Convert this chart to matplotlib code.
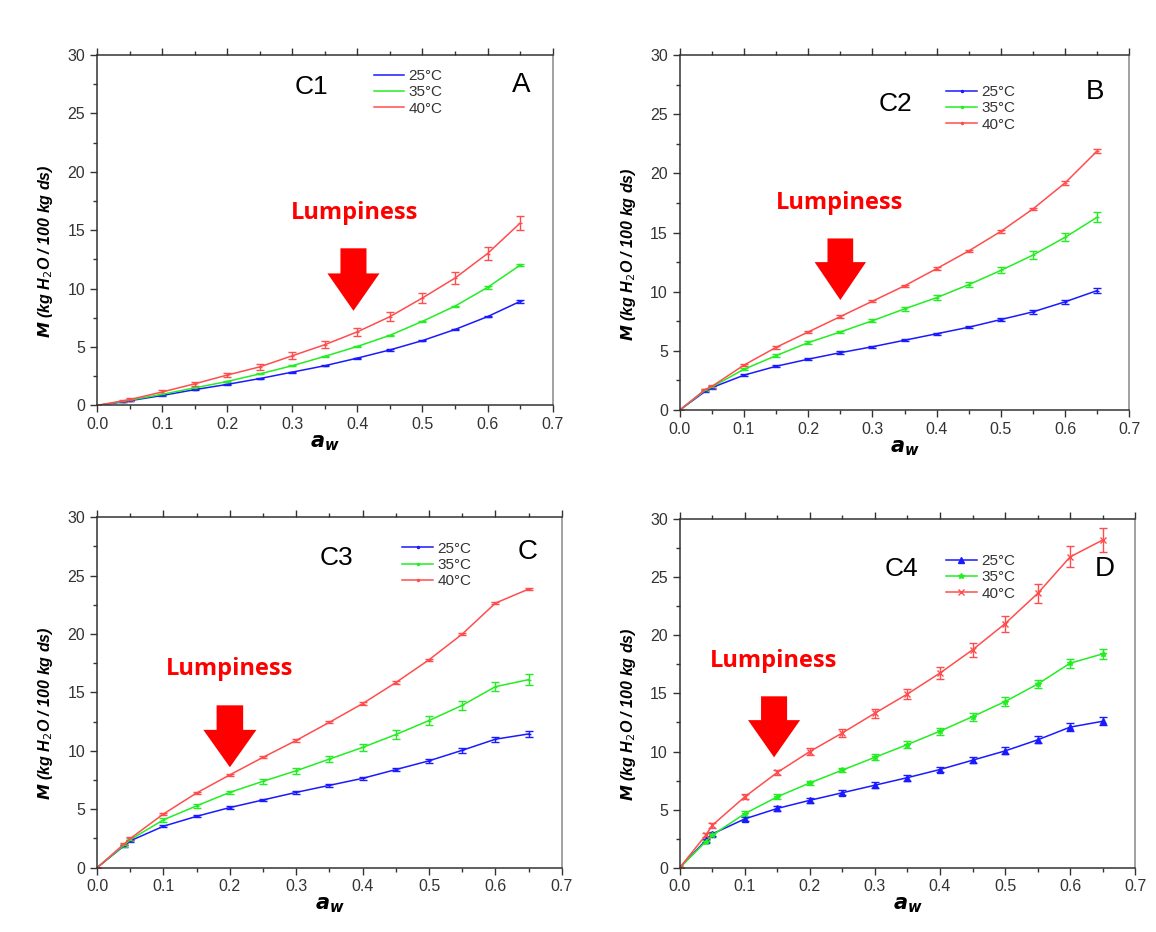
import numpy as np
import matplotlib
matplotlib.use("Agg")
import matplotlib.pyplot as plt
from matplotlib.lines import Line2D

plt.rcParams['font.family'] = ['Liberation Sans', 'DejaVu Sans']

aw = [0.0, 0.04, 0.05, 0.1, 0.15, 0.2, 0.25, 0.3, 0.35, 0.4, 0.45, 0.5, 0.55, 0.6, 0.65]
temps = ["25°C", "35°C", "40°C"]

# C1 (panel A)
c1_25 = [0, 0.3, 0.4, 0.85, 1.35, 1.8, 2.3, 2.85, 3.4, 4.05, 4.75, 5.55, 6.5, 7.6, 8.9]
c1_35 = [0, 0.35, 0.45, 0.95, 1.5, 2.05, 2.7, 3.4, 4.2, 5.05, 6.0, 7.2, 8.5, 10.1, 12.0]
c1_40 = [0, 0.4, 0.5, 1.15, 1.85, 2.6, 3.3, 4.25, 5.2, 6.3, 7.6, 9.2, 10.9, 13.0, 15.6]
c1_err25 = [0, 0.05, 0.05, 0.05, 0.05, 0.05, 0.05, 0.05, 0.05, 0.05, 0.05, 0.05, 0.05, 0.05, 0.1]
c1_err35 = [0, 0.05, 0.05, 0.05, 0.05, 0.05, 0.05, 0.05, 0.05, 0.05, 0.05, 0.05, 0.05, 0.1, 0.1]
c1_err40 = [0, 0.1, 0.1, 0.15, 0.15, 0.2, 0.25, 0.3, 0.3, 0.35, 0.4, 0.45, 0.5, 0.55, 0.6]

# C2 (panel B)
c2_25 = [0, 1.6, 1.9, 2.95, 3.7, 4.3, 4.85, 5.35, 5.9, 6.45, 7.0, 7.65, 8.3, 9.15, 10.1]
c2_35 = [0, 1.7, 1.95, 3.45, 4.6, 5.7, 6.6, 7.55, 8.55, 9.5, 10.6, 11.8, 13.1, 14.6, 16.3]
c2_40 = [0, 1.75, 2.0, 3.8, 5.3, 6.6, 7.9, 9.2, 10.5, 11.95, 13.45, 15.1, 17.0, 19.2, 21.9]
c2_err25 = [0, 0.05, 0.1, 0.1, 0.1, 0.1, 0.1, 0.1, 0.1, 0.1, 0.1, 0.15, 0.15, 0.15, 0.2]
c2_err35 = [0, 0.05, 0.1, 0.1, 0.1, 0.1, 0.1, 0.15, 0.15, 0.2, 0.2, 0.25, 0.3, 0.35, 0.4]
c2_err40 = [0, 0.05, 0.1, 0.1, 0.1, 0.1, 0.1, 0.1, 0.1, 0.1, 0.1, 0.1, 0.1, 0.15, 0.15]

# C3 (panel C)
c3_25 = [0, 1.85, 2.3, 3.55, 4.4, 5.15, 5.8, 6.45, 7.05, 7.65, 8.4, 9.15, 10.05, 11.0, 11.45]
c3_35 = [0, 1.9, 2.4, 4.1, 5.3, 6.45, 7.4, 8.3, 9.3, 10.3, 11.4, 12.6, 13.9, 15.5, 16.1]
c3_40 = [0, 2.0, 2.5, 4.6, 6.4, 7.95, 9.45, 10.9, 12.45, 14.05, 15.85, 17.8, 20.0, 22.65, 23.85]
c3_err25 = [0, 0.1, 0.1, 0.1, 0.1, 0.1, 0.1, 0.1, 0.15, 0.15, 0.15, 0.15, 0.2, 0.2, 0.25]
c3_err35 = [0, 0.1, 0.1, 0.15, 0.15, 0.15, 0.2, 0.25, 0.25, 0.3, 0.35, 0.35, 0.4, 0.4, 0.45]
c3_err40 = [0, 0.1, 0.1, 0.1, 0.1, 0.1, 0.1, 0.1, 0.1, 0.1, 0.1, 0.1, 0.1, 0.1, 0.1]

# C4 (panel D)
c4_25 = [0, 2.35, 2.9, 4.2, 5.1, 5.8, 6.45, 7.1, 7.75, 8.45, 9.25, 10.05, 11.0, 12.1, 12.6]
c4_35 = [0, 2.25, 2.8, 4.65, 6.1, 7.3, 8.4, 9.5, 10.6, 11.75, 13.0, 14.3, 15.8, 17.6, 18.4]
c4_40 = [0, 2.8, 3.65, 6.1, 8.2, 10.0, 11.6, 13.3, 14.95, 16.75, 18.75, 21.0, 23.6, 26.75, 28.2]
c4_err25 = [0, 0.15, 0.15, 0.2, 0.2, 0.2, 0.2, 0.25, 0.25, 0.25, 0.25, 0.3, 0.3, 0.35, 0.35]
c4_err35 = [0, 0.15, 0.15, 0.2, 0.2, 0.2, 0.2, 0.25, 0.3, 0.3, 0.35, 0.35, 0.35, 0.4, 0.4]
c4_err40 = [0, 0.15, 0.2, 0.2, 0.25, 0.3, 0.35, 0.4, 0.45, 0.5, 0.6, 0.7, 0.8, 0.9, 1.0]

colors = ["#1a1aff", "#22ee22", "#ff4d4d"]

# name, letter, series, errors, markers, axes rect, label pos, letter pos,
# legend anchor, lumpiness text pos, arrow (x, top, tip)
panels = [
    dict(name="C1", letter="A", ys=[c1_25, c1_35, c1_40], errs=[c1_err25, c1_err35, c1_err40],
         markers=["_", "_", "_"], leg_markers=[None, None, None], rect=[0.084, 0.565, 0.394, 0.376],
         name_xy=(0.33, 27.3), letter_xy=(0.652, 27.4), leg=(0.607, 0.96),
         lump_xy=(0.396, 16.5), arrow=(0.394, 13.45, 8.1)),
    dict(name="C2", letter="B", ys=[c2_25, c2_35, c2_40], errs=[c2_err25, c2_err35, c2_err40],
         markers=["_", "_", "_"], leg_markers=[".", ".", "."], rect=[0.588, 0.56, 0.389, 0.381],
         name_xy=(0.336, 25.9), letter_xy=(0.647, 26.9), leg=(0.593, 0.915),
         lump_xy=(0.249, 17.5), arrow=(0.25, 14.5, 9.3)),
    dict(name="C3", letter="C", ys=[c3_25, c3_35, c3_40], errs=[c3_err25, c3_err35, c3_err40],
         markers=["_", "_", "_"], leg_markers=[".", ".", "."], rect=[0.084, 0.069, 0.402, 0.376],
         name_xy=(0.361, 26.55), letter_xy=(0.649, 27.05), leg=(0.657, 0.93),
         lump_xy=(0.2, 17.0), arrow=(0.2, 13.9, 8.6)),
    dict(name="C4", letter="D", ys=[c4_25, c4_35, c4_40], errs=[c4_err25, c4_err35, c4_err40],
         markers=["^", "*", "x"], leg_markers=["^", "*", "x"], rect=[0.588, 0.069, 0.394, 0.374],
         name_xy=(0.341, 25.75), letter_xy=(0.653, 25.75), leg=(0.585, 0.9),
         lump_xy=(0.144, 17.8), arrow=(0.145, 14.75, 9.5)),
]

fig = plt.figure(figsize=(11.56, 9.32), dpi=100)

for p in panels:
    ax = fig.add_axes(p["rect"])
    handles = []
    for y, e, c, m, lm, t in zip(p["ys"], p["errs"], colors, p["markers"], p["leg_markers"], temps):
        ms = 4 if m != "_" else 3
        ax.errorbar(aw, y, yerr=e, color=c, lw=1.1, marker=m, ms=ms, mew=1,
                    elinewidth=1, capsize=3, capthick=1)
        handles.append(Line2D([], [], color=c, lw=1.1, marker=lm, ms=4 if lm != "." else 3, label=t))
    ax.set_xlim(0, 0.7)
    ax.set_ylim(0, 30)
    ax.set_xticks(np.arange(0, 0.71, 0.1))
    ax.set_xticks(np.arange(0.05, 0.7, 0.1), minor=True)
    ax.set_yticks(np.arange(0, 31, 5))
    ax.set_yticks(np.arange(2.5, 30, 5), minor=True)
    ax.xaxis.set_major_formatter(matplotlib.ticker.FormatStrFormatter("%.1f"))
    ax.tick_params(axis="both", which="both", direction="out", top=True, right=False,
                   labelsize=11.5, labelcolor="#333333", color="#333333")
    ax.tick_params(which="major", length=5, width=1)
    ax.tick_params(which="minor", length=3, width=1)
    for s in ax.spines.values():
        s.set_color("#333333")
        s.set_linewidth(1.1)
    ax.spines["right"].set_color("#888888")
    ax.set_ylabel(r"$\bfit{M}$ (kg H$_2$O / 100 kg ds)", fontsize=11.5, fontweight="bold",
                  fontstyle="italic")
    ax.yaxis.set_label_coords(-42 / (p["rect"][2] * 1156), 0.44)
    ax.set_xlabel(r"$\bfit{a_w}$", fontsize=15, family="DejaVu Serif", labelpad=1)

    ax.text(*p["name_xy"], p["name"], fontsize=19, ha="center", va="center")
    ax.text(*p["letter_xy"], p["letter"], fontsize=20, ha="center", va="center")
    ax.text(*p["lump_xy"], "Lumpiness", fontsize=17, fontweight="bold", color="red",
            ha="center", va="center", family=["Open Sans", "DejaVu Sans"])
    ax_x, top, tip = p["arrow"]
    ax.arrow(ax_x, top, 0, tip - top, width=0.04, head_width=0.08, head_length=3.2,
             length_includes_head=True, color="red", lw=0)
    ax.legend(handles=handles, loc="upper left", bbox_to_anchor=p["leg"], frameon=False,
              fontsize=11, handlelength=2.0, handletextpad=0.3, labelspacing=0.15,
              borderpad=0, borderaxespad=0, labelcolor="#333333")

fig.savefig("out.png", dpi=100)
